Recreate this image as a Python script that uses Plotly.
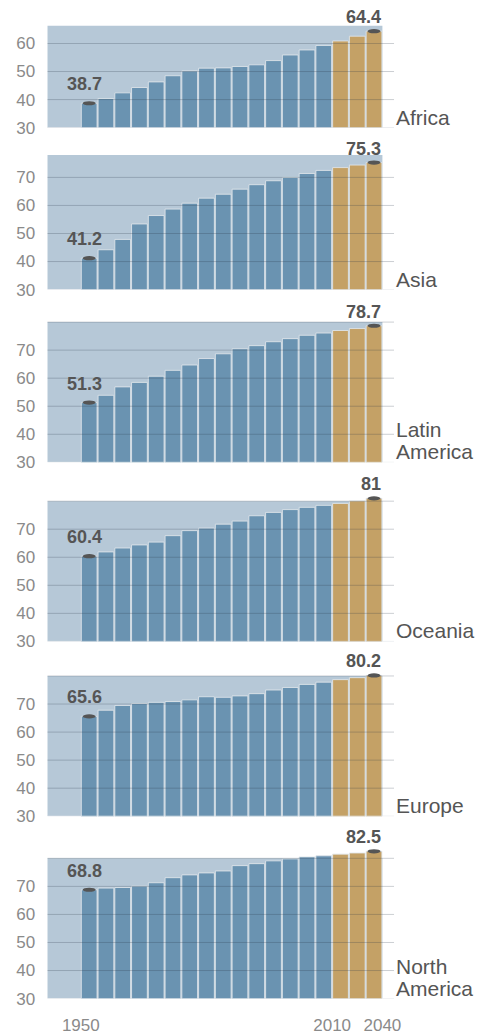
import plotly.graph_objects as go

# ---------------- data ----------------
regions = [["Africa"], ["Asia"], ["Latin", "America"], ["Oceania"], ["Europe"], ["North", "America"]]
periods = list(range(18))  # 18 five-year periods, 1950 -> 2040
n_hist = 15                # historical bars (blue); the rest are projections (gold)

africa = [38.7, 40.4, 42.4, 44.3, 46.3, 48.5, 50.2, 51.2, 51.3, 51.8, 52.4, 53.9, 55.9, 57.7, 59.3, 60.9, 62.6, 64.4]
asia = [41.2, 44.2, 47.9, 53.4, 56.4, 58.7, 60.8, 62.6, 64.0, 65.8, 67.4, 68.8, 70.0, 71.4, 72.5, 73.5, 74.4, 75.3]
latin_america = [51.3, 53.9, 56.9, 58.5, 60.7, 62.8, 64.7, 67.0, 68.7, 70.5, 71.6, 73.0, 74.1, 75.3, 76.1, 77.0, 77.7, 78.7]
oceania = [60.4, 61.9, 63.3, 64.4, 65.4, 67.7, 69.5, 70.4, 71.8, 72.9, 74.8, 76.0, 77.0, 77.8, 78.5, 79.2, 80.1, 81.0]
europe = [65.6, 67.8, 69.5, 70.2, 70.6, 70.9, 71.5, 72.6, 72.4, 72.9, 73.7, 75.0, 75.9, 77.0, 77.8, 78.7, 79.4, 80.2]
north_america = [68.8, 69.4, 69.6, 70.1, 71.3, 73.1, 74.1, 74.8, 75.5, 77.4, 78.1, 79.1, 79.8, 80.5, 80.9, 81.5, 81.9, 82.5]
series = [africa, asia, latin_america, oceania, europe, north_america]

y_ticks = [30, 40, 50, 60, 70, 80]
x_tick_vals = [-0.5, 14.5, 17.5]
x_tick_text = ["1950", "2010", "2040"]

# ---------------- layout / style ----------------
W, H = 477, 1035
bg_tops = [66.3, 78, 80, 80, 80, 80]
base_px = [129, 292.7, 467.3, 648.3, 825, 1009.3]
ppu = 2.835          # pixels per year of life expectancy
extra = 5            # head-room above the shaded panel
x_left_px, x_right_px = 48, 400
x_range = [-2.5, 18.2]

BLUE = "#6a93b1"
GOLD = "#c4a166"
BG = "#b6c8d7"
DARK = "#555555"
TICK = "#8a8a8a"
FONT = "Liberation Sans, Arial, Helvetica, sans-serif"

fig = go.Figure()
layout = dict(
    width=W, height=H,
    margin=dict(l=0, r=0, t=0, b=0),
    paper_bgcolor="white", plot_bgcolor="rgba(0,0,0,0)",
    showlegend=False,
    font=dict(family=FONT, color=DARK),
    shapes=[], annotations=[],
)

for k, (name_lines, vals, top) in enumerate(zip(regions, series, bg_tops)):
    n = k + 1
    xa = "x" if n == 1 else f"x{n}"
    ya = "y" if n == 1 else f"y{n}"
    rtop = top + extra
    y0 = 1 - base_px[k] / H
    y1 = 1 - (base_px[k] - (rtop - 30) * ppu) / H

    colors = [BLUE] * n_hist + [GOLD] * (len(vals) - n_hist)
    fig.add_trace(go.Bar(
        x=periods, y=vals, xaxis=xa, yaxis=ya,
        marker=dict(color=colors, line=dict(color="rgba(225,230,235,0.85)", width=1)),
        width=0.94, hoverinfo="x+y",
    ))

    last = (k == len(regions) - 1)
    layout["xaxis" if n == 1 else f"xaxis{n}"] = dict(
        domain=[x_left_px / W, x_right_px / W], range=x_range,
        anchor=ya, showgrid=False, zeroline=False, showline=False,
        tickvals=x_tick_vals if last else [], ticktext=x_tick_text if last else [],
        ticks="", tickfont=dict(size=17, color=TICK, family=FONT),
        ticklabelstandoff=14,
    )
    tv = [t for t in y_ticks if t <= top]
    layout["yaxis" if n == 1 else f"yaxis{n}"] = dict(
        domain=[y0, y1], range=[30, rtop], anchor=xa,
        showgrid=False, zeroline=False, showline=False,
        tickvals=[t for t in tv if t < 80],
        ticks="", tickfont=dict(size=17, color=TICK, family=FONT),
        ticklabelstandoff=11,
    )

    # shaded panel background
    layout["shapes"].append(dict(
        type="rect", xref=xa, yref=ya, x0=x_range[0], x1=periods[-1] + 0.5,
        y0=30, y1=top, fillcolor=BG, line=dict(width=0), layer="below",
    ))
    # gridlines (drawn over the bars, semi-transparent)
    for t in tv:
        layout["shapes"].append(dict(
            type="line", xref=xa, yref=ya, x0=x_range[0], x1=x_range[1], y0=t, y1=t,
            line=dict(color="rgba(225,228,232,1)" if t == 30 else "rgba(40,55,70,0.24)", width=1),
            layer="above",
        ))
    # caps on first and last bar
    for i in (0, len(vals) - 1):
        layout["shapes"].append(dict(
            type="circle", xref=xa, yref=ya,
            x0=periods[i] - 0.39, x1=periods[i] + 0.39,
            y0=vals[i] - 0.75, y1=vals[i] + 0.75,
            fillcolor=DARK, line=dict(width=0), layer="above",
        ))
    # value labels
    layout["annotations"].append(dict(
        x=periods[0], y=vals[0], xref=xa, yref=ya, text=f"<b>{vals[0]:g}</b>",
        showarrow=False, xanchor="center", yanchor="bottom", xshift=-5, yshift=7,
        font=dict(size=18, color=DARK, family=FONT),
    ))
    layout["annotations"].append(dict(
        x=periods[-1], y=vals[-1], xref=xa, yref=ya, text=f"<b>{vals[-1]:g}</b>",
        showarrow=False, xanchor="right", yanchor="bottom", xshift=9, yshift=2,
        font=dict(size=18, color=DARK, family=FONT),
    ))
    # region name (one annotation per line for tight line spacing)
    nl = len(name_lines)
    for j, line in enumerate(name_lines):
        layout["annotations"].append(dict(
            x=1, y=30, xref=f"{xa} domain", yref=ya, text=line, align="left",
            showarrow=False, xanchor="left", yanchor="bottom",
            xshift=0, yshift=-3 + (nl - 1 - j) * 22,
            font=dict(size=21, color=DARK, family=FONT),
        ))

fig.update_layout(**layout)
fig.write_html("out.html", config={"displayModeBar": False},
               post_script="document.body.style.margin='0';")
